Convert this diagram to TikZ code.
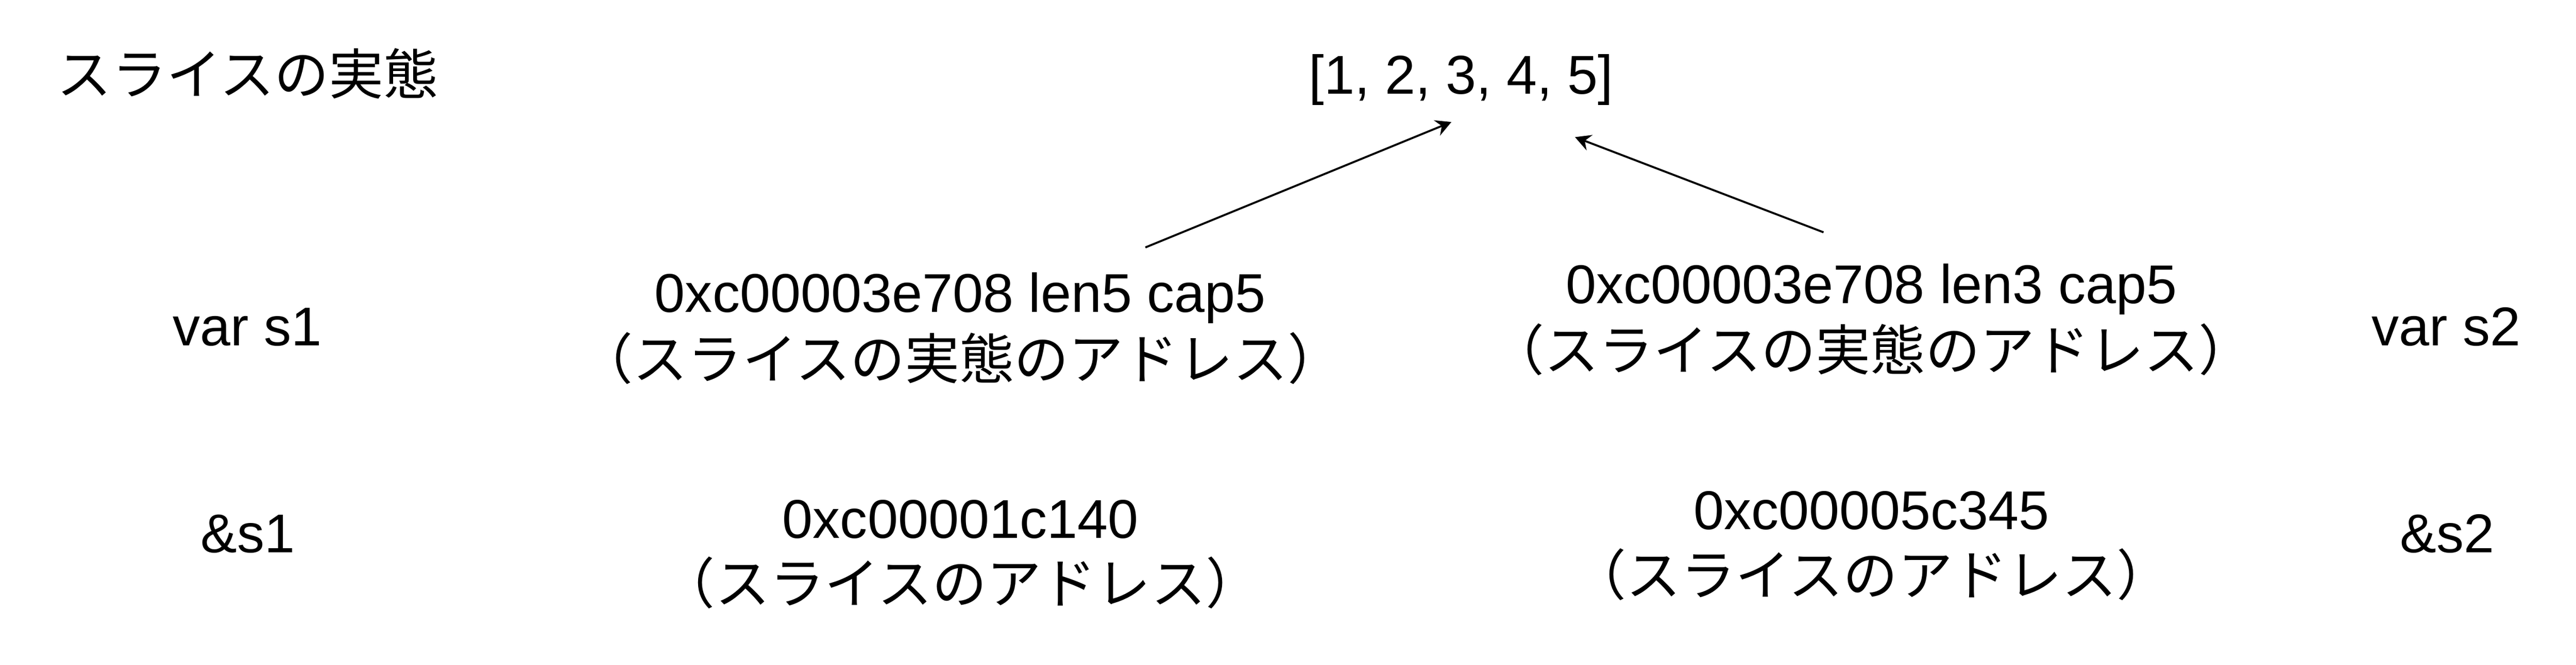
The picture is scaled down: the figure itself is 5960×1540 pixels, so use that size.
\documentclass[tikz,border=0pt]{standalone}
\usepackage{fontspec}
\setmainfont{Liberation Sans}
\newfontfamily\jp{Noto Sans CJK JP}
\usetikzlibrary{arrows.meta}

\begin{document}
\begin{tikzpicture}[x=0.1mm, y=-0.1mm, line width=0.46mm,
    every node/.style={inner sep=0pt, anchor=base, font=\fontsize{36pt}{44pt}\selectfont},
    note/.style={font=\fontsize{36pt}{44pt}\selectfont\jp},
    ptr/.style={-{Stealth[length=3.6mm, width=3.8mm, inset=1.2mm]}}]
  \useasboundingbox (0,0) rectangle (5960,1540);
  \node[note, anchor=base west] (title) at (130,219) {スライスの実態};
  \node (arr) at (3380,217) {[1, 2, 3, 4, 5]};
  % variables
  \node (vs1) at (572,800) {var s1};
  \node (as1) at (573,1280) {\&s1};
  \node (vs2) at (5660,800) {var s2};
  \node (as2) at (5662,1280) {\&s2};
  % s1
  \node (s1ptr) at (2222,723) {0xc00003e708 len5 cap5};
  \node[note] (s1ptrnote) at (2222,878) {（スライスの実態のアドレス）};
  \node (s1addr) at (2222,1246) {0xc00001c140};
  \node[note] (s1addrnote) at (2222,1398) {（スライスのアドレス）};
  % s2
  \node (s2ptr) at (4330,703) {0xc00003e708 len3 cap5};
  \node[note] (s2ptrnote) at (4330,858) {（スライスの実態のアドレス）};
  \node (s2addr) at (4330,1226) {0xc00005c345};
  \node[note] (s2addrnote) at (4330,1378) {（スライスのアドレス）};
  \draw[ptr] ([xshift=42.8mm, yshift=5.6mm]s1ptr.north) -- ([xshift=-2.2mm, yshift=-3.7mm]arr.south);
  \draw[ptr] ([xshift=-11.1mm, yshift=7.1mm]s2ptr.north) -- ([xshift=26.4mm, yshift=-7.2mm]arr.south);
\end{tikzpicture}
\end{document}
